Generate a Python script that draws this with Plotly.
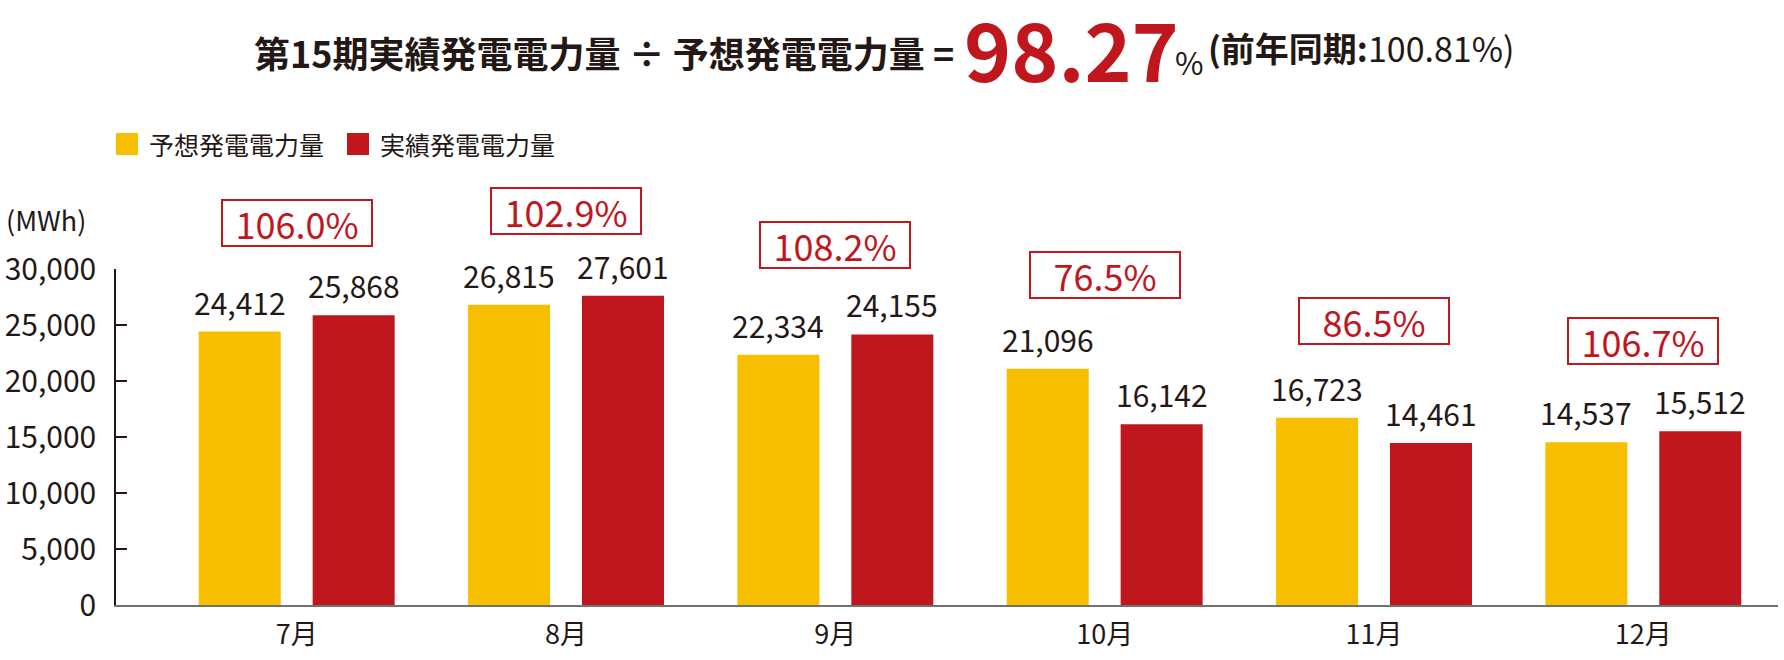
import plotly.graph_objs as go

# Data
months = ['7月', '8月', '9月', '10月', '11月', '12月']
forecast = [24412, 26815, 22334, 21096, 16723, 14537]   # 予想発電電力量
actual = [25868, 27601, 24155, 16142, 14461, 15512]     # 実績発電電力量
ratio = [106.0, 102.9, 108.2, 76.5, 86.5, 106.7]        # 実績 / 予想 (%)
yTicks = [0, 5000, 10000, 15000, 20000, 25000, 30000]

totalRatio = '98.27'
lastYearRatio = '100.81'

# Colors and fonts
yellow = '#F8BF00'
red = '#C0171F'
ink = '#231815'
font = 'Noto Sans CJK JP'

# Page geometry (pixels); the body margin is removed below so page = figure
W, H = 1784, 660
left, right, top, bottom = 116, 1778, 269, 605

def px(x):
    return (x - left) / (right - left)

def py(y):
    return (bottom - y) / (bottom - top)

# Vertical position (pixel centre) of the ratio boxes
boxY = [223, 211, 245, 275, 321, 341]

fig = go.Figure()
fig.add_trace(go.Bar(x=months, y=forecast, name='予想発電電力量',
                     marker=dict(color=yellow, line=dict(width=0))))
fig.add_trace(go.Bar(x=months, y=actual, name='実績発電電力量',
                     marker=dict(color=red, line=dict(width=0))))

annotations = []

# Value labels above each bar
for m, f, a in zip(months, forecast, actual):
    annotations.append(dict(x=m, y=f, xref='x', yref='y', text=f'{f:,}',
                            showarrow=False, xshift=-57, yshift=6, yanchor='bottom',
                            font=dict(family=font, size=30, color=ink)))
    annotations.append(dict(x=m, y=a, xref='x', yref='y', text=f'{a:,}',
                            showarrow=False, xshift=57, yshift=6, yanchor='bottom',
                            font=dict(family=font, size=30, color=ink)))

# Boxed ratio per month
for m, r, by in zip(months, ratio, boxY):
    annotations.append(dict(x=m, y=py(by), xref='x', yref='paper', text=f'{r:.1f}%',
                            showarrow=False, yanchor='middle', width=146, height=42,
                            bordercolor=red, borderwidth=2, borderpad=1, bgcolor='white',
                            font=dict(family=font, size=36, color=red)))

# Title pieces
annotations.append(dict(x=px(956), y=py(52), xref='paper', yref='paper',
                        text='<b>第15期実績発電電力量 ÷ 予想発電電力量 =</b>',
                        showarrow=False, xanchor='right', yanchor='middle',
                        font=dict(family=font, size=36, color=ink)))
annotations.append(dict(x=px(962), y=py(47), xref='paper', yref='paper',
                        text=f'<b>{totalRatio}</b>', showarrow=False,
                        xanchor='left', yanchor='middle',
                        font=dict(family=font, size=80, color=red)))
annotations.append(dict(x=px(1173), y=py(61), xref='paper', yref='paper',
                        text='%', showarrow=False, xanchor='left', yanchor='middle',
                        font=dict(family=font, size=31, color=ink)))
annotations.append(dict(x=px(1206), y=py(48), xref='paper', yref='paper',
                        text=f'<b>(前年同期:</b>{lastYearRatio}%)', showarrow=False,
                        xanchor='left', yanchor='middle',
                        font=dict(family=font, size=34, color=ink)))

# Unit label
annotations.append(dict(x=px(4), y=py(219), xref='paper', yref='paper', text='(MWh)',
                        showarrow=False, xanchor='left', yanchor='middle',
                        font=dict(family=font, size=27, color=ink)))

# Legend drawn by hand so the swatches match the size in the original
shapes = []
legendItems = [('予想発電電力量', yellow, 116), ('実績発電電力量', red, 347)]
for label, color, x0 in legendItems:
    shapes.append(dict(type='rect', xref='paper', yref='paper',
                       x0=px(x0), x1=px(x0 + 22), y0=py(155), y1=py(133),
                       fillcolor=color, line=dict(width=0)))
    annotations.append(dict(x=px(x0 + 31), y=py(144), xref='paper', yref='paper',
                            text=label, showarrow=False, xanchor='left', yanchor='middle',
                            font=dict(family=font, size=25, color=ink)))

fig.update_layout(
    width=W, height=H, autosize=False,
    margin=dict(l=left, r=W - right, t=top, b=H - bottom, pad=0),
    paper_bgcolor='white', plot_bgcolor='white',
    font=dict(family=font, color=ink),
    barmode='group', bargap=0.154, bargroupgap=0.28,
    showlegend=False,
    annotations=annotations,
    shapes=shapes,
    xaxis=dict(type='category', range=[-0.671, 5.5], showgrid=False,
               automargin=False,
               showline=True, linecolor='#727171', linewidth=2,
               ticks='', ticklabelstandoff=5,
               tickfont=dict(family=font, size=27, color=ink)),
    yaxis=dict(range=[0, 30000], tickvals=yTicks, tickformat=',',
               showgrid=False, zeroline=False, automargin=False,
               showline=True, linecolor=ink, linewidth=1.5,
               ticks='inside', ticklen=11, tickwidth=1.5, tickcolor=ink,
               ticklabelstandoff=12,
               tickfont=dict(family=font, size=30, color=ink)),
)

# drop the default page margin so the figure sits at the window's corner
fig.write_html("out.html", config={'displayModeBar': False},
               post_script="document.body.style.margin='0';")
